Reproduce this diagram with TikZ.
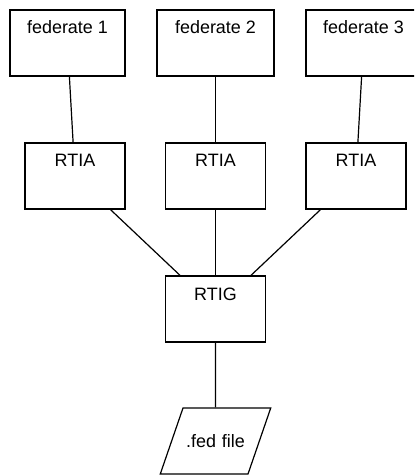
\documentclass[tikz,border=0pt]{standalone}
\usepackage{fontspec}
\setmainfont{Liberation Sans}
\usepackage{tikz}
\usetikzlibrary{shapes.geometric}
\tikzset{
  ebox/.style={draw=black, line width=1.2bp, inner sep=0pt, text height=24bp, text depth=42bp, minimum height=66bp, font=\fontsize{18}{22}\selectfont},
  fedbox/.style={ebox, minimum width=115bp},
  rtibox/.style={ebox, minimum width=100bp},
  filebox/.style={draw=black, line width=1.2bp, trapezium, trapezium left angle=71, trapezium right angle=109, inner sep=0pt, text width=65bp, align=center, text height=39bp, text depth=27bp, font=\fontsize{18}{22}\selectfont},
  elink/.style={line width=1.2bp}
}
\begin{document}
\begin{tikzpicture}[x=1bp, y=-1bp]
\clip (0,0) rectangle (414,476);
\node[fedbox] (f1) at (67.5,43) {federate 1};
\node[fedbox, minimum width=117bp] (f2) at (215.5,43) {federate 2};
\node[fedbox] (f3) at (363.5,43) {federate 3};
\node[rtibox] (r1) at (75,176) {RTIA};
\node[rtibox] (r2) at (215.5,176) {RTIA};
\node[rtibox] (r3) at (356,176) {RTIA};
\node[rtibox] (g) at (215.5,309) {RTIG};
\node[filebox] (fed) at (215.5,441) {.fed file};
\draw[elink] (f1)--(r1);
\draw[elink] (f2)--(r2);
\draw[elink] (f3)--(r3);
\draw[elink] (r1)--(g);
\draw[elink] (r2)--(g);
\draw[elink] (r3)--(g);
\draw[elink] (g)--(fed);
\end{tikzpicture}
\end{document}
